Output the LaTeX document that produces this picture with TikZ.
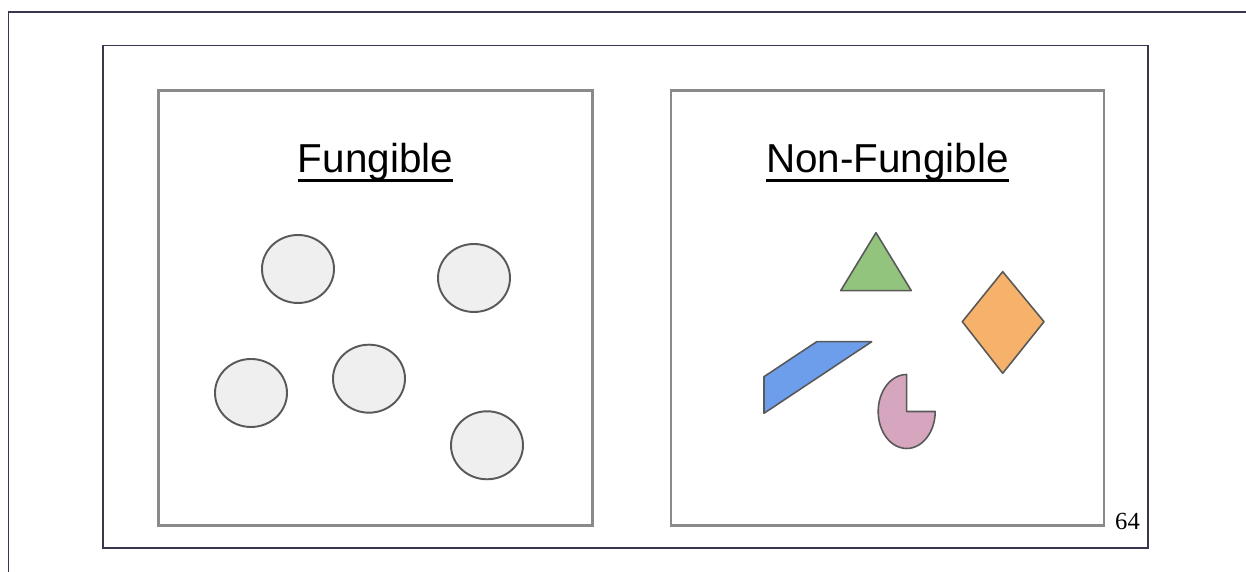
\documentclass[tikz,border=0pt]{standalone}
\usepackage{fontspec}
\usepackage{tikz}
\setmainfont{Liberation Serif}
\newfontfamily\headfont{Liberation Sans}
\newcommand{\headline}[1]{\setbox0\hbox{#1}\rlap{\rule[-2.5pt]{\wd0}{0.75pt}}\box0}
\definecolor{framedark}{HTML}{3A3650}
\definecolor{boxgray}{HTML}{8A8A8A}
\definecolor{edgegray}{HTML}{595959}
\definecolor{coinfill}{HTML}{EFEFEF}
\definecolor{trigreen}{HTML}{93C47D}
\definecolor{diaorange}{HTML}{F6B26B}
\definecolor{parblue}{HTML}{6D9EEB}
\definecolor{pacpink}{HTML}{D5A6BD}

\begin{document}
\begin{tikzpicture}[
  frame/.style={draw=framedark,line width=0.5pt},
  panel/.style={draw=boxgray,line width=0.85pt},
  coin/.style={draw=edgegray,fill=coinfill,line width=0.55pt},
  token/.style={draw=edgegray,line width=0.45pt,line join=round},
  title/.style={anchor=base,inner sep=0pt,font=\headfont\fontsize{11.5}{13}\selectfont}]
\useasboundingbox (0,0) rectangle (12.46,5.72);
\coordinate (O1) at (0.085,0);
\coordinate (O2) at (0.085,5.60);
\coordinate (O3) at (12.46,5.60);
\draw[frame] (O1)--(O2)--(O3);
\draw[frame] (1.03,0.24) rectangle (11.477,5.265);
\draw[panel] (1.587,0.463) rectangle (5.923,4.81);
\draw[panel] (6.71,0.463) rectangle (11.04,4.81);
\node[title] (fung) at (3.755,3.99) {\headline{Fungible}};
\node[title] (nonfung) at (8.875,3.99) {\headline{Non-Fungible}};
\foreach \cx/\cy in {2.98/3.03,4.74/2.94,2.51/1.79,3.69/1.933,4.87/1.267}
  \draw[coin] (\cx,\cy) ellipse [x radius=0.36,y radius=0.34];
\coordinate (TA) at (8.76,3.393);
\coordinate (TL) at (8.407,2.813);
\coordinate (TR) at (9.113,2.813);
\draw[token,fill=trigreen] (TA)--(TL)--(TR)--cycle;
\coordinate (DT) at (10.027,3.003);
\coordinate (DL) at (9.623,2.503);
\coordinate (DB) at (10.027,1.987);
\coordinate (DR) at (10.44,2.503);
\draw[token,fill=diaorange] (DT)--(DL)--(DB)--(DR)--cycle;
\coordinate (P1) at (7.64,1.953);
\coordinate (P2) at (8.167,2.303);
\coordinate (P3) at (8.717,2.303);
\coordinate (P4) at (7.64,1.587);
\draw[token,fill=parblue] (P1)--(P2)--(P3)--(P4)--cycle;
\coordinate (PC) at (9.067,1.605);
\draw[token,fill=pacpink] (PC)--++(0,0.37) arc[start angle=90,end angle=360,x radius=0.285,y radius=0.37]--cycle;
\node[anchor=base,inner sep=0pt,font=\fontsize{7}{8}\selectfont] (page) at (11.275,0.42) {64};
\end{tikzpicture}
\end{document}
